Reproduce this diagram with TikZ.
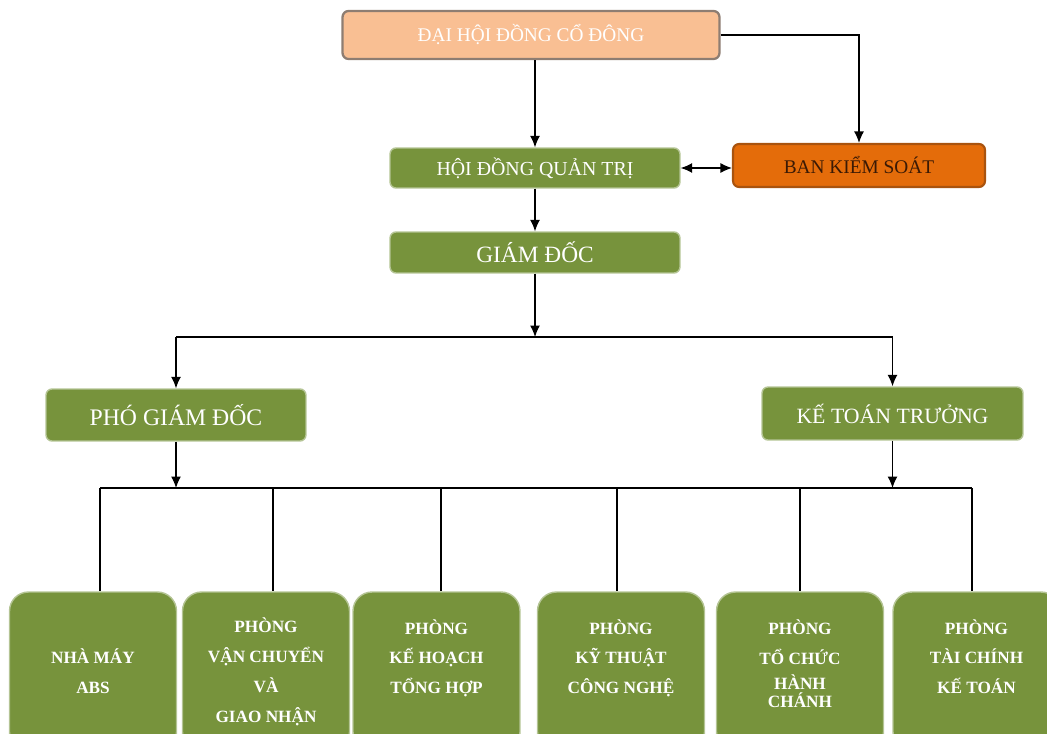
\documentclass[tikz,border=0pt]{standalone}
\usepackage{fontspec}
\setmainfont{Liberation Serif}
\usetikzlibrary{arrows.meta,calc}
\definecolor{leaf}{HTML}{77933C}
\definecolor{peach}{HTML}{F9BF93}
\definecolor{peachline}{HTML}{8E7D72}
\definecolor{rust}{HTML}{E46C0A}
\definecolor{rustline}{HTML}{A9530E}
\definecolor{bkstext}{HTML}{3A1A05}

\begin{document}
\begin{tikzpicture}[x=0.02cm, y=-0.02cm,
    box/.style={fill=leaf, draw=leaf!55!white, line width=0.8pt, rounded corners=0.12cm,
                text=white, inner sep=0pt},
    unitbox/.style={box, rounded corners=0.38cm, minimum width=3.34cm, minimum height=3.18cm,
                align=center, font=\bfseries\fontsize{9.8}{17}\selectfont},
    link/.style={line width=0.7pt},
    arr/.style={link, -{Latex[length=2.3mm,width=2mm]}},
    twoarr/.style={link, {Latex[length=2.3mm,width=2mm]}-{Latex[length=2.3mm,width=2mm]}}]
	\path[use as bounding box, clip] (0,0) rectangle (1047,733);
%
	\node[box, fill=peach, draw=peachline, line width=1.3pt, minimum width=7.54cm, minimum height=0.96cm,
	      font=\fontsize{11}{13}\selectfont] (DH) at (531,35) {ĐẠI HỘI ĐỒNG CỔ ĐÔNG};
	\node[box, minimum width=5.8cm, minimum height=0.8cm, font=\fontsize{11.3}{13}\selectfont] (HD) at (535,168) {HỘI ĐỒNG QUẢN TRỊ};
	\node[box, fill=rust, draw=rustline, line width=1.2pt, text=bkstext, minimum width=5.04cm, minimum height=0.86cm,
	      font=\fontsize{11}{13}\selectfont] (BKS) at (859,165.5) {BAN KIỂM SOÁT};
	\node[box, minimum width=5.8cm, minimum height=0.82cm, font=\fontsize{13.3}{15}\selectfont] (GD) at (535,252.5) {GIÁM ĐỐC};
	\node[box, minimum width=5.2cm, minimum height=1.04cm, font=\fontsize{13.5}{15}\selectfont] (PGD) at (176,415) {PHÓ GIÁM ĐỐC};
	\node[box, minimum width=5.22cm, minimum height=1.06cm, font=\fontsize{12.4}{15}\selectfont] (KTT) at (892.5,413.5) {KẾ TOÁN TRƯỞNG};
%
	\node[unitbox] (NM) at (93,671.5) {\vphantom{PHÒNG}\\NHÀ MÁY\\ABS\\\mbox{}};
	\node[unitbox] (VC) at (266,671.5) {PHÒNG\\VẬN CHUYỂN\\VÀ\\GIAO NHẬN};
	\node[unitbox] (KH) at (436.5,671.5) {PHÒNG\\KẾ HOẠCH\\TỔNG HỢP\\\mbox{}};
	\node[unitbox] (KT) at (621,671.5) {PHÒNG\\KỸ THUẬT\\CÔNG NGHỆ\\\mbox{}};
	\node[unitbox] (TC) at (800,671.5) {PHÒNG\\TỔ CHỨC\\[-3pt]HÀNH\\[-7pt]CHÁNH\\[-8pt]\mbox{}};
	\node[unitbox] (TK) at (976.5,671.5) {PHÒNG\\TÀI CHÍNH\\KẾ TOÁN\\\mbox{}};
%
	\coordinate (top) at (535,337);
	\coordinate (d1) at (100,488);
	\coordinate (d2) at (273,488);
	\coordinate (d3) at (441,488);
	\coordinate (d4) at (617,488);
	\coordinate (d5) at (800,488);
	\coordinate (d6) at (972,488);
%
	\draw[arr] (HD.north |- DH.south) -- (HD.north);
	\draw[arr] (DH.east) -| (BKS.north);
	\draw[twoarr] (HD.east) -- (HD.east -| BKS.west);
	\draw[arr] (HD.south) -- (GD.north);
	\draw[arr] (GD.south) -- (top);
	\draw[link] (PGD.north |- top) -- (KTT.north |- top);
	\draw[arr] (PGD.north |- top) -- (PGD.north);
	\draw[arr] (KTT.north |- top) -- (KTT.north);
	\draw[arr] (PGD.south) -- (PGD.south |- d1);
	\draw[arr] (KTT.south) -- (KTT.south |- d6);
	\draw[link] (d1) -- (d6);
	\path[link]
		(d1) edge (d1 |- NM.north)
		(d2) edge (d2 |- VC.north)
		(d3) edge (d3 |- KH.north)
		(d4) edge (d4 |- KT.north)
		(d5) edge (d5 |- TC.north)
		(d6) edge (d6 |- TK.north);
\end{tikzpicture}
\end{document}
